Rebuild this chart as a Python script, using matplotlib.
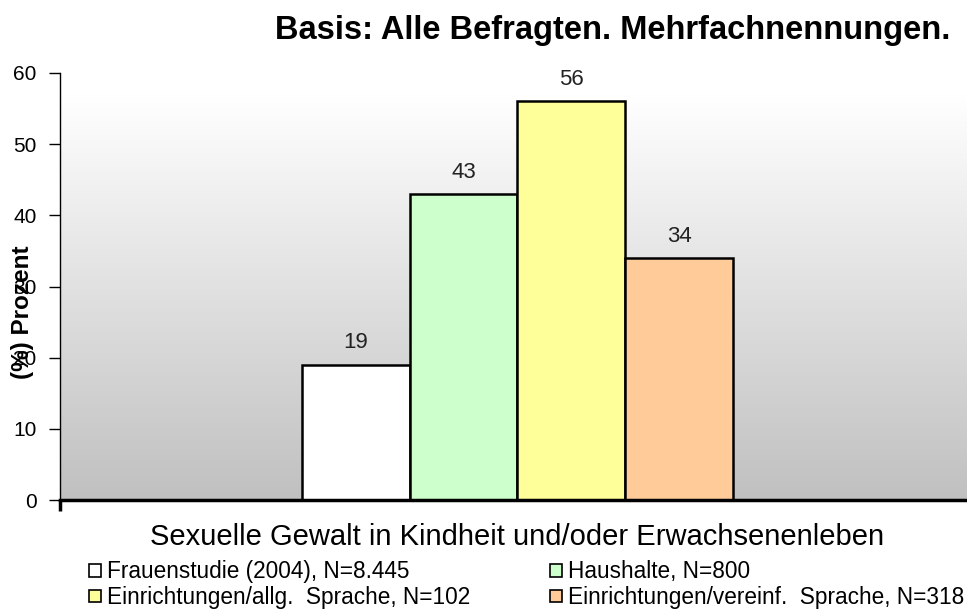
import numpy as np
import matplotlib
matplotlib.use("Agg")
import matplotlib.pyplot as plt
from matplotlib.patches import Patch

plt.rcParams['font.family'] = ['Liberation Sans', 'DejaVu Sans']

series = ["Frauenstudie (2004), N=8.445", "Haushalte, N=800",
          "Einrichtungen/allg.  Sprache, N=102", "Einrichtungen/vereinf.  Sprache, N=318"]
values = [19, 43, 56, 34]
colors = ["#FFFFFF", "#CCFFCC", "#FFFF99", "#FFCC99"]
yticks = [0, 10, 20, 30, 40, 50, 60]
category = "Sexuelle Gewalt in Kindheit und/oder Erwachsenenleben"
title = "Basis: Alle Befragten. Mehrfachnennungen."
ylabel = "(%) Prozent"

W, H = 967, 609
fig = plt.figure(figsize=(W/100, H/100), dpi=100)
ax = fig.add_axes([60/W, 1-500/H, 1-60/W, (500-73)/H])

xlim = (-2.746, 5.672)
ax.set_xlim(*xlim)
ax.set_ylim(0, 60)

# vertical gradient: white at top -> light gray at bottom
n = 256
t = np.linspace(0, 1, n)
t = np.clip((t - 0.05) / 0.95, 0, 1)
top = np.array([1.0, 1.0, 1.0])
bot = np.array([0xC0, 0xC0, 0xC0]) / 255
rgb = top[None, :] * (1 - t[:, None]) + bot[None, :] * t[:, None]
img = np.repeat(rgb[:, None, :], 2, axis=1)
ax.imshow(img, aspect='auto', extent=[xlim[0], xlim[1], 0, 60],
          origin='upper', zorder=0, interpolation='bilinear')

x = np.arange(len(values))
ax.bar(x, values, width=1.0, color=colors, edgecolor='black', linewidth=1.8, zorder=2)
for xi, v in zip(x, values):
    ax.text(xi, v + 1.6, str(v), ha='center', va='bottom', fontsize=16, color='#222222')

ax.set_yticks(yticks)
ax.set_yticklabels([str(t) for t in yticks], fontsize=15)
ax.tick_params(axis='y', direction='out', length=8, width=1, pad=9)
ax.set_xticks([xlim[0]])
ax.set_xticklabels([""])
ax.tick_params(axis='x', direction='out', length=8, width=2.5)
for s in ['top', 'right']:
    ax.spines[s].set_visible(False)
ax.spines['left'].set_linewidth(1)
ax.spines['bottom'].set_linewidth(2.5)

fig.text(22/W, 1-312/H, ylabel, rotation=90, ha='center', va='center',
         fontsize=17.5, fontweight='bold')
fig.text(950/W, 1-31/H, title, ha='right', va='center', fontsize=23.5, fontweight='bold')
fig.text(517/W, 1-537/H, category, ha='center', va='center', fontsize=21)

legend_kw = dict(loc='upper left', frameon=False, handlelength=0.5, handleheight=0.5,
                 handletextpad=0.3, labelspacing=0.12, borderpad=0, fontsize=16.3)
col1 = [0, 2]
col2 = [1, 3]
for cols, x0 in ((col1, 78), (col2, 539)):
    handles = [Patch(facecolor=colors[i], edgecolor='black', linewidth=1.2) for i in cols]
    labels = [series[i] for i in cols]
    fig.legend(handles, labels, bbox_to_anchor=(x0/W, 1-549/H), **legend_kw)

fig.savefig("out.png", dpi=100)
